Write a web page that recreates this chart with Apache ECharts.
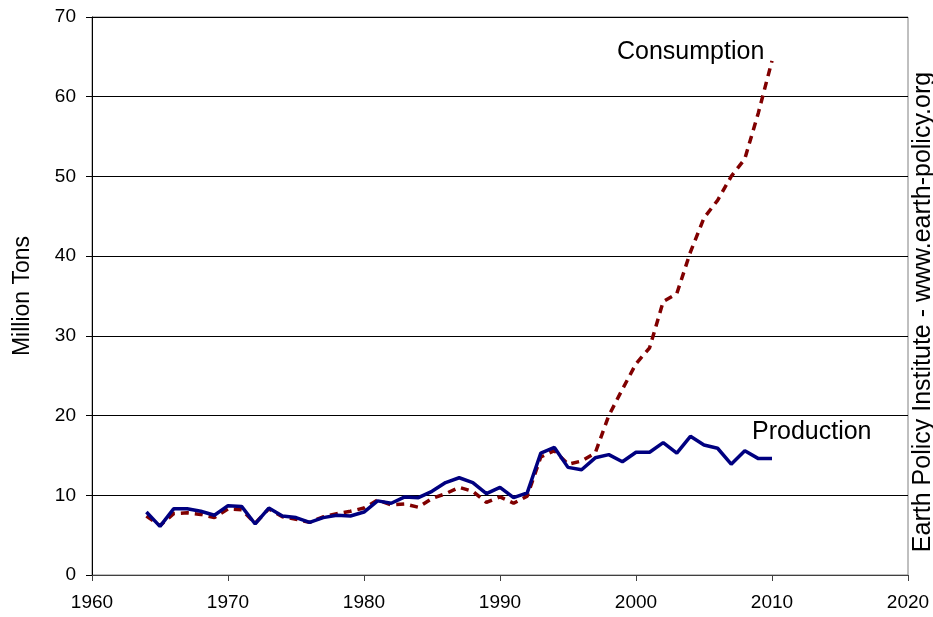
<!DOCTYPE html>
<html>
<head>
<meta charset="utf-8">
<script src="https://cdn.jsdelivr.net/npm/echarts@6/dist/echarts.min.js"></script>
<style>
  html, body { margin: 0; padding: 0; background: #fff; }
  #chart { width: 933px; height: 617px; }
</style>
</head>
<body>
<div id="chart"></div>
<script>
// years 1964 - 2010
const years = [
  1964, 1965, 1966, 1967, 1968, 1969, 1970, 1971, 1972, 1973,
  1974, 1975, 1976, 1977, 1978, 1979, 1980, 1981, 1982, 1983,
  1984, 1985, 1986, 1987, 1988, 1989, 1990, 1991, 1992, 1993,
  1994, 1995, 1996, 1997, 1998, 1999, 2000, 2001, 2002, 2003,
  2004, 2005, 2006, 2007, 2008, 2009, 2010
]

// million tons
const production = [
  7.9, 6.1, 8.3, 8.3, 8.0, 7.5, 8.7, 8.6, 6.4, 8.4,
  7.4, 7.2, 6.6, 7.2, 7.5, 7.4, 7.9, 9.3, 9.0, 9.8,
  9.7, 10.5, 11.6, 12.2, 11.6, 10.2, 11.0, 9.7, 10.3, 15.3,
  16.0, 13.5, 13.2, 14.7, 15.1, 14.2, 15.4, 15.4, 16.6, 15.3,
  17.4, 16.3, 15.9, 13.9, 15.6, 14.6, 14.6
]

const consumption = [
  7.4, 6.2, 7.7, 7.8, 7.6, 7.2, 8.3, 8.2, 6.5, 8.3,
  7.3, 7.0, 6.6, 7.3, 7.7, 8.0, 8.4, 9.4, 8.8, 8.9,
  8.5, 9.6, 10.2, 11.0, 10.5, 9.1, 9.8, 9.0, 9.9, 14.8,
  15.6, 13.9, 14.3, 15.3, 20.0, 23.3, 26.5, 28.5, 34.3, 35.3,
  40.5, 44.8, 47.0, 50.0, 52.2, 58.0, 64.5
]

const xTicks = [1960, 1970, 1980, 1990, 2000, 2010, 2020]
const yTicks = [0, 10, 20, 30, 40, 50, 60, 70]

const FONT = '"Liberation Sans", Arial, sans-serif'

const chart = echarts.init(document.getElementById('chart'))

const option = {
  backgroundColor: '#fff',
  animation: false,
  grid: {
    left: 92,
    right: 25,
    top: 17,
    bottom: 42,
    show: true,
    borderColor: '#808080',
    borderWidth: 1
  },
  xAxis: {
    type: 'value',
    min: xTicks[0],
    max: xTicks[xTicks.length - 1],
    interval: 10,
    axisLine: { lineStyle: { color: '#404040', width: 1 } },
    axisTick: { show: true, length: 6, lineStyle: { color: '#404040' } },
    splitLine: { show: false },
    axisLabel: {
      color: '#000',
      fontFamily: FONT,
      fontSize: 19,
      margin: 18,
      formatter: v => String(v)
    }
  },
  yAxis: {
    type: 'value',
    min: yTicks[0],
    max: yTicks[yTicks.length - 1],
    interval: 10,
    name: 'Million Tons',
    nameLocation: 'middle',
    nameGap: 58,
    nameTextStyle: { color: '#000', fontFamily: FONT, fontSize: 23 },
    axisLine: { show: true, lineStyle: { color: '#000', width: 1 } },
    axisTick: { show: true, length: 6, lineStyle: { color: '#000' } },
    splitLine: { show: true, lineStyle: { color: '#000', width: 1 } },
    axisLabel: {
      color: '#000',
      fontFamily: FONT,
      fontSize: 19,
      margin: 16
    }
  },
  series: [
    {
      name: 'Consumption',
      type: 'line',
      data: years.map((y, i) => [y, consumption[i]]),
      showSymbol: false,
      lineStyle: { color: '#800000', width: 3.5, type: [8, 6] },
      z: 2
    },
    {
      name: 'Production',
      type: 'line',
      data: years.map((y, i) => [y, production[i]]),
      showSymbol: false,
      lineStyle: { color: '#000080', width: 3.5 },
      z: 3
    }
  ],
  graphic: [
    {
      type: 'text',
      left: 617,
      top: 40,
      style: { text: 'Consumption', font: '25px ' + FONT, fill: '#000' }
    },
    {
      type: 'text',
      left: 752,
      top: 420,
      style: { text: 'Production', font: '25px ' + FONT, fill: '#000' }
    },
    {
      type: 'text',
      x: 923,
      y: 312,
      rotation: Math.PI / 2,
      style: {
        text: 'Earth Policy Institute - www.earth-policy.org',
        font: '25px ' + FONT,
        fill: '#000',
        align: 'center',
        verticalAlign: 'middle'
      }
    }
  ]
}

chart.setOption(option)
</script>
</body>
</html>
